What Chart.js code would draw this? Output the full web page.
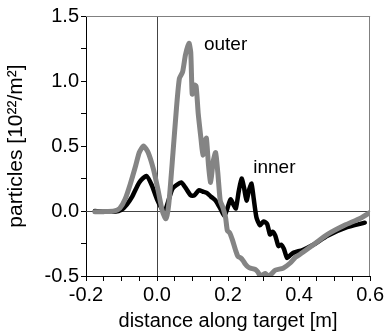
<!DOCTYPE html>
<html>
<head>
<meta charset="utf-8">
<script src="https://cdn.jsdelivr.net/npm/chart.js@4/dist/chart.umd.min.js"></script>
<style>
html,body{margin:0;padding:0;background:#fff;}
#wrap{width:386px;height:334px;position:relative;}
</style>
</head>
<body>
<div id="wrap"><canvas id="c" width="386" height="334"></canvas></div>
<script>
// ---- data ----
const outerX = [-0.175,-0.15,-0.12,-0.105,-0.09,-0.075,-0.06,-0.05,-0.038,-0.025,-0.01,0.003,0.015,0.025,0.033,0.045,0.055,0.063,0.072,0.08,0.09,0.095,0.099,0.104,0.11,0.116,0.124,0.129,0.134,0.139,0.145,0.151,0.158,0.165,0.171,0.178,0.185,0.193,0.198,0.205,0.212,0.221,0.228,0.235,0.242,0.249,0.256,0.263,0.277,0.284,0.291,0.298,0.305,0.313,0.32,0.333,0.355,0.375,0.39,0.402,0.44,0.48,0.528,0.573,0.6];
const outerY = [-0.005,-0.005,0.0,0.02,0.09,0.21,0.35,0.45,0.5,0.45,0.32,0.16,0.0,-0.06,0.05,0.45,0.8,1.02,1.07,1.2,1.29,1.22,0.9,0.97,0.96,0.75,0.55,0.43,0.53,0.56,0.35,0.22,0.38,0.45,0.3,0.08,0.03,-0.05,-0.15,-0.17,-0.22,-0.3,-0.35,-0.36,-0.38,-0.41,-0.43,-0.44,-0.45,-0.47,-0.5,-0.49,-0.48,-0.5,-0.49,-0.455,-0.44,-0.4,-0.355,-0.335,-0.26,-0.18,-0.11,-0.055,-0.01];
const innerX = [-0.175,-0.15,-0.12,-0.1,-0.085,-0.07,-0.05,-0.03,-0.015,0.0,0.015,0.022,0.03,0.043,0.055,0.068,0.08,0.095,0.105,0.118,0.128,0.14,0.152,0.165,0.178,0.19,0.198,0.207,0.215,0.222,0.23,0.238,0.245,0.252,0.259,0.266,0.272,0.28,0.29,0.3,0.31,0.318,0.325,0.333,0.342,0.35,0.357,0.366,0.375,0.385,0.41,0.44,0.48,0.53,0.585];
const innerY = [0.0,-0.005,-0.005,0.01,0.05,0.11,0.22,0.27,0.2,0.09,0.01,0.0,0.06,0.17,0.2,0.22,0.18,0.12,0.12,0.16,0.15,0.14,0.11,0.08,0.02,-0.04,0.02,0.09,0.05,0.02,0.15,0.25,0.18,0.08,0.16,0.21,0.1,-0.05,-0.11,-0.08,-0.1,-0.18,-0.16,-0.19,-0.27,-0.26,-0.29,-0.36,-0.34,-0.32,-0.3,-0.26,-0.19,-0.13,-0.09];
const xTickLabels = [-0.2, 0.0, 0.2, 0.4, 0.6];
const yTickLabels = [-0.5, 0.0, 0.5, 1.0, 1.5];
const seriesNames = ['outer', 'inner'];
const labelPos = { outer: [0.132, 1.24], inner: [0.271, 0.29] };

const toPts = (xs, ys) => xs.map((v, i) => ({ x: v, y: ys[i] }));
const isLabel = (v, list) => list.some(t => Math.abs(t - v) < 1e-6);
const FONT = "'Liberation Sans', Arial, sans-serif";

const framePlugin = {
  id: 'frame',
  beforeDatasetsDraw(chart) {
    const { ctx, chartArea: a, scales: { x, y } } = chart;
    ctx.save();
    ctx.lineWidth = 1;
    ctx.strokeStyle = '#444';
    const x0 = Math.round(x.getPixelForValue(0)) + 0.5;
    const y0 = Math.round(y.getPixelForValue(0)) + 0.5;
    ctx.beginPath();
    ctx.moveTo(x0, a.top); ctx.lineTo(x0, a.bottom);
    ctx.moveTo(a.left, y0); ctx.lineTo(a.right, y0);
    ctx.stroke();
    ctx.strokeStyle = '#808080';
    ctx.beginPath();
    ctx.moveTo(a.left, Math.round(a.top) + 0.5); ctx.lineTo(a.right, Math.round(a.top) + 0.5);
    ctx.moveTo(Math.round(a.right) - 0.5, a.top); ctx.lineTo(Math.round(a.right) - 0.5, a.bottom);
    ctx.stroke();
    ctx.restore();
  },
  afterDatasetsDraw(chart) {
    const { ctx, scales: { x, y } } = chart;
    ctx.save();
    ctx.fillStyle = '#000';
    ctx.font = '19px ' + FONT;
    ctx.textAlign = 'left';
    ctx.textBaseline = 'alphabetic';
    seriesNames.forEach(n => {
      const p = labelPos[n];
      ctx.fillText(n, x.getPixelForValue(p[0]), y.getPixelForValue(p[1]));
    });
    ctx.restore();
  }
};

new Chart(document.getElementById('c'), {
  type: 'scatter',
  data: {
    datasets: [
      { label: seriesNames[0], data: toPts(outerX, outerY), showLine: true, borderColor: '#848484', borderWidth: 5, pointRadius: 0, tension: 0.2, borderJoinStyle: 'round', borderCapStyle: 'round' },
      { label: seriesNames[1], data: toPts(innerX, innerY), showLine: true, borderColor: '#000000', borderWidth: 4.5, pointRadius: 0, tension: 0.2, borderJoinStyle: 'round', borderCapStyle: 'round' }
    ]
  },
  options: {
    responsive: false,
    animation: false,
    events: [],
    layout: { padding: { left: 0, top: 16, right: 13, bottom: 0 } },
    plugins: { legend: { display: false }, tooltip: { enabled: false } },
    scales: {
      x: {
        type: 'linear', min: -0.2, max: 0.6,
        afterFit(s) { s.height = 58; },
        border: { color: '#000', width: 1 },
        grid: { drawOnChartArea: false, drawTicks: true, tickLength: 5, color: '#000' },
        ticks: {
          stepSize: 0.05, autoSkip: false, maxRotation: 0, padding: 2, color: '#000',
          font: { family: FONT, size: 20 },
          callback: v => isLabel(v, xTickLabels) ? v.toFixed(1) : ''
        },
        title: { display: true, text: 'distance along target [m]', color: '#000', font: { family: FONT, size: 20 }, padding: { top: 0, bottom: 1 } }
      },
      y: {
        type: 'linear', min: -0.5, max: 1.5,
        afterFit(s) { s.width = 86; },
        border: { color: '#000', width: 1 },
        grid: { drawOnChartArea: false, drawTicks: true, tickLength: 5, color: '#000' },
        ticks: {
          stepSize: 0.25, autoSkip: false, padding: 2, color: '#000',
          font: { family: FONT, size: 20 },
          callback: v => isLabel(v, yTickLabels) ? v.toFixed(1) : ''
        },
        title: { display: true, text: 'particles [10²²/m²]', color: '#000', font: { family: FONT, size: 21 }, padding: { top: 4, bottom: 0 } }
      }
    }
  },
  plugins: [framePlugin]
});
</script>
</body>
</html>
